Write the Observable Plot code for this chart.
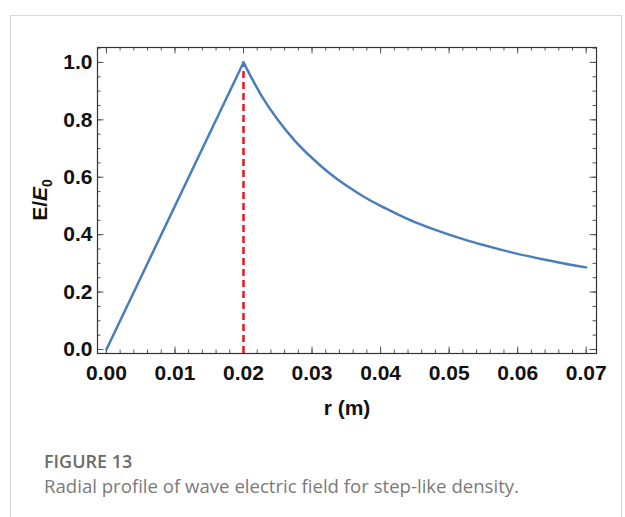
<!DOCTYPE html>
<html>
<head>
<meta charset="utf-8">
<script src="https://cdn.jsdelivr.net/npm/d3@7"></script>
<script src="https://cdn.jsdelivr.net/npm/@observablehq/plot@0.6"></script>
<style>
  html, body { margin: 0; padding: 0; background: #fff; }
  #wrap { position: relative; width: 625px; height: 517px; overflow: hidden; }
  #card { position: absolute; left: 10px; top: 15px; width: 612px; height: 520px; border: 1px solid #d9d9d9; box-sizing: border-box; }
  #chart { position: absolute; left: 0; top: 0; }
  .cap1 { position: absolute; left: 44px; top: 449px; font-family: "Open Sans", Lato, sans-serif; font-size: 18px; font-weight: 600; color: #6b6b6b; line-height: 24px; }
  .cap2 { position: absolute; left: 44px; top: 474px; font-family: "Open Sans", Lato, sans-serif; font-size: 18.6px; color: #7a7a7a; line-height: 24px; }
</style>
</head>
<body>
<div id="wrap">
  <div id="card"></div>
  <div id="chart"></div>
  <div class="cap1">FIGURE 13</div>
  <div class="cap2">Radial profile of wave electric field for step-like density.</div>
</div>
<script>
// radius values (m)
const rValues = [0, 0.02, 0.0225, 0.025, 0.0275, 0.03, 0.0325, 0.035, 0.0375, 0.04, 0.0425, 0.045, 0.0475, 0.05, 0.0525, 0.055, 0.0575, 0.06, 0.0625, 0.065, 0.0675, 0.07];
// normalized field E/E0
const eValues = [0, 1.0, 0.889, 0.80, 0.727, 0.667, 0.615, 0.571, 0.533, 0.50, 0.471, 0.444, 0.421, 0.40, 0.381, 0.364, 0.348, 0.333, 0.32, 0.308, 0.296, 0.286];
// boundary of the step-like density
const boundary = [0.02];
// tick labels
const xTicks = [0, 0.01, 0.02, 0.03, 0.04, 0.05, 0.06, 0.07];
const yTicks = [0, 0.2, 0.4, 0.6, 0.8, 1.0];
const xMinor = d3.range(0, 0.0711, 0.002).map(v => +v.toFixed(3));
const yMinor = d3.range(0, 1.051, 0.05).map(v => +v.toFixed(2));
const xDomain = [-0.0013, 0.0715];
const yDomain = [-0.014, 1.052];

const data = rValues.map((r, i) => ({r, e: eValues[i]}));
const rise = data.slice(0, 2);
const decay = data.slice(1);

const W = 625, H = 440;
const mL = 97, mR = 29, mT = 47, mB = 87;
const fw = W - mL - mR, fh = H - mT - mB;
const tickCol = "#555";
const FONT = "Liberation Sans";

const plot = Plot.plot({
  width: W, height: H,
  marginLeft: mL, marginRight: mR, marginTop: mT, marginBottom: mB,
  x: {domain: xDomain},
  y: {domain: yDomain},
  style: {fontFamily: FONT, background: "transparent"},
  marks: [
    Plot.axisX(xTicks, {anchor: "bottom", tickSize: 0, tickPadding: 12, fontSize: 21, fontWeight: "bold", fontFamily: FONT, fill: "#111",
      tickFormat: d => d.toFixed(2), label: null}),
    Plot.axisY(yTicks, {anchor: "left", tickSize: 0, tickPadding: 5, fontSize: 21, fontWeight: "bold", fontFamily: FONT, fill: "#111",
      tickFormat: d => d.toFixed(1), label: null}),
    // minor ticks
    Plot.tickX(xMinor, {x: d => d, insetTop: fh - 3.5, stroke: tickCol}),
    Plot.tickX(xMinor, {x: d => d, insetBottom: fh - 3.5, stroke: tickCol}),
    Plot.tickY(yMinor, {y: d => d, insetRight: fw - 3.5, stroke: tickCol}),
    Plot.tickY(yMinor, {y: d => d, insetLeft: fw - 3.5, stroke: tickCol}),
    // major ticks
    Plot.tickX(xTicks, {x: d => d, insetTop: fh - 6.5, stroke: tickCol}),
    Plot.tickX(xTicks, {x: d => d, insetBottom: fh - 6.5, stroke: tickCol}),
    Plot.tickY(yTicks, {y: d => d, insetRight: fw - 6.5, stroke: tickCol}),
    Plot.tickY(yTicks, {y: d => d, insetLeft: fw - 6.5, stroke: tickCol}),
    Plot.ruleX(boundary, {x: d => d, y1: yDomain[0], y2: 1.0, stroke: "#e8161e", strokeWidth: 2.5, strokeDasharray: "7,4"}),
    Plot.line(rise, {x: "r", y: "e", stroke: "#4a7ebb", strokeWidth: 2.5}),
    Plot.line(decay, {x: "r", y: "e", stroke: "#4a7ebb", strokeWidth: 2.5, curve: "monotone-x"}),
    Plot.frame({stroke: "#333", strokeWidth: 1.2}),
    Plot.text(["r (m)"], {frameAnchor: "bottom", dy: 61, text: d => d, fontSize: 21, fontWeight: "bold", fontFamily: FONT, fill: "#111"})
  ]
});

// y-axis label with italic E and subscript 0
const svg = d3.select(plot);
const yl = svg.append("text")
  .attr("transform", `translate(47, ${mT + fh / 2}) rotate(-90)`)
  .attr("text-anchor", "middle")
  .attr("font-family", FONT)
  .attr("font-size", 21)
  .attr("font-weight", "bold")
  .attr("fill", "#111");
yl.append("tspan").text("E/");
yl.append("tspan").attr("font-style", "italic").text("E");
yl.append("tspan").attr("font-size", 14).attr("dy", 5).text("0");

document.getElementById("chart").appendChild(plot);
</script>
</body>
</html>
